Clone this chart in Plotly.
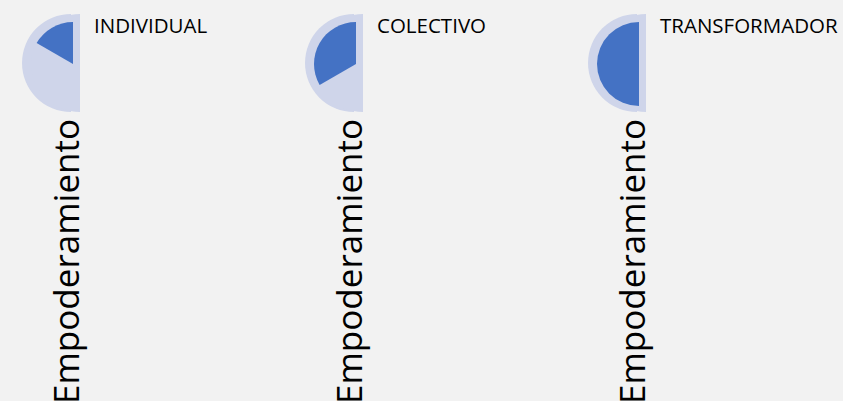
import plotly.graph_objects as go

# ---- data ----
categories = ["INDIVIDUAL", "COLECTIVO", "TRANSFORMADOR"]
levels = [1, 2, 3]          # filled part of the half circle, on a scale of max_level
max_level = 3
axis_title = "Empoderamiento"

# ---- style ----
W, H = 843, 401
BG = "#F2F2F2"
LAV = "#CFD5EA"
BLUE = "#4472C4"
CLEAR = "rgba(0,0,0,0)"
FONT = "Open Sans"
STEP = 283


def dom(cx, cy, r):
    return dict(x=[(cx - r) / W, (cx + r) / W], y=[1 - (cy + r) / H, 1 - (cy - r) / H])


fig = go.Figure()
annotations = []
for i, (cat, lv) in enumerate(zip(categories, levels)):
    off = STEP * i
    # light background half disc (two overlapping copies give the flat right strip)
    for cx in (71 + off, 80 + off):
        fig.add_trace(go.Pie(
            values=[1, 1], sort=False, direction="clockwise", rotation=0,
            marker=dict(colors=[CLEAR, LAV], line=dict(width=0)),
            textinfo="none", hoverinfo="skip", showlegend=False,
            domain=dom(cx, 63, 49)))
    # filled wedge (counter-clockwise from 12 o'clock)
    fig.add_trace(go.Pie(
        values=[max_level, max_level - lv, lv], sort=False,
        direction="clockwise", rotation=0,
        marker=dict(colors=[CLEAR, CLEAR, BLUE], line=dict(width=0)),
        textinfo="none", hoverinfo="skip", showlegend=False,
        domain=dom(73 + off, 64, 42)))
    annotations.append(dict(
        text=cat, x=(92 + off) / W, y=1 - 25 / H, xref="paper", yref="paper",
        xanchor="left", yanchor="middle", showarrow=False,
        font=dict(family=FONT, size=20.5, color="#000000")))
    annotations.append(dict(
        text=axis_title, x=(65 + off) / W, y=1 - 262 / H, xref="paper", yref="paper",
        xanchor="center", yanchor="middle", showarrow=False, textangle=-90,
        font=dict(family=FONT, size=35, color="#000000")))

fig.update_layout(
    width=W, height=H, margin=dict(l=0, r=0, t=0, b=0),
    paper_bgcolor=BG, plot_bgcolor=BG, annotations=annotations)

fig.write_html("out.html", config={"displayModeBar": False},
               post_script="document.body.style.margin='0';document.body.style.overflow='hidden';")
